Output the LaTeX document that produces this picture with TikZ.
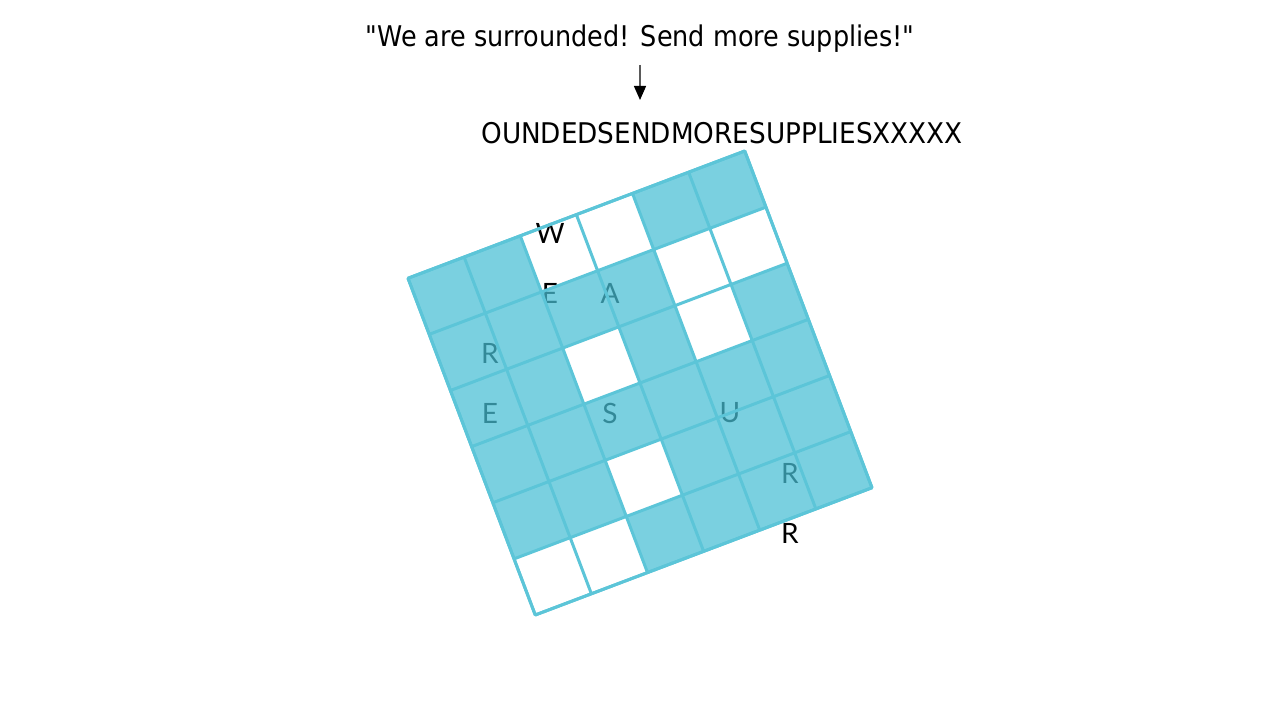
\documentclass[tikz,border=0pt]{standalone}
\usepackage{fontspec}
\setmainfont{DejaVu Sans}[Ligatures=TeXOff]
\newfontfamily\latofont{Lato}
\usetikzlibrary{arrows.meta}
\definecolor{grillefill}{RGB}{71,190,212}
\definecolor{grilleline}{RGB}{92,197,216}
\definecolor{arrowgray}{RGB}{90,90,90}
\begin{document}
\begin{tikzpicture}[x=1pt,y=1pt,
  headline/.style={font=\fontsize{28.5}{32}\selectfont, inner sep=0pt, anchor=base},
  gridletter/.style={font=\latofont\fontsize{28}{30}\selectfont, inner sep=0pt, text=black},
  grillecell/.style={fill=grillefill, fill opacity=0.72, even odd rule},
  grillerule/.style={draw=grilleline, line width=3pt, line join=round},
  downarrow/.style={draw=arrowgray, line width=1.4pt, -{Triangle[width=12pt,length=14pt,fill=black,color=black]}}
  ]
\useasboundingbox (0,0) rectangle (1280,720);
% headings
\node[headline] (plain) at (640,673) {\scalebox{0.895}[1]{"We are surrounded! Send more supplies!"}};
\node[headline] (rest) at (722,576) {\scalebox{0.922}[1]{OUNDEDSENDMORESUPPLIESXXXXX}};
\coordinate (arrowstart) at (640,655);
\coordinate (arrowend) at (640,620);
\draw[downarrow] (arrowstart) -- (arrowend);
% letters written through the holes
\node[gridletter] (l1) at (550,487) {W};
\node[gridletter] (l2) at (550,427) {E};
\node[gridletter] (l3) at (610,427) {A};
\node[gridletter] (l4) at (490,367) {R};
\node[gridletter] (l5) at (490,307) {E};
\node[gridletter] (l6) at (610,307) {S};
\node[gridletter] (l7) at (730,307) {U};
\node[gridletter] (l8) at (790,247) {R};
\node[gridletter] (l9) at (790,187) {R};
% rotated grille
\begin{scope}[shift={(640,337)}, rotate=20.7]
  \fill[grillecell] (-180,-180) rectangle (180,180)
    (-60,120) rectangle ++(60,60)
    (0,120) rectangle ++(60,60)
    (60,60) rectangle ++(60,60)
    (120,60) rectangle ++(60,60)
    (-60,0) rectangle ++(60,60)
    (60,0) rectangle ++(60,60)
    (-60,-120) rectangle ++(60,60)
    (-180,-180) rectangle ++(60,60)
    (-120,-180) rectangle ++(60,60);
  \draw[grillerule] (-180,-180) grid[step=60] (180,180);
  \draw[grillerule] (-180,-180) rectangle (180,180);
\end{scope}
\end{tikzpicture}
\end{document}
